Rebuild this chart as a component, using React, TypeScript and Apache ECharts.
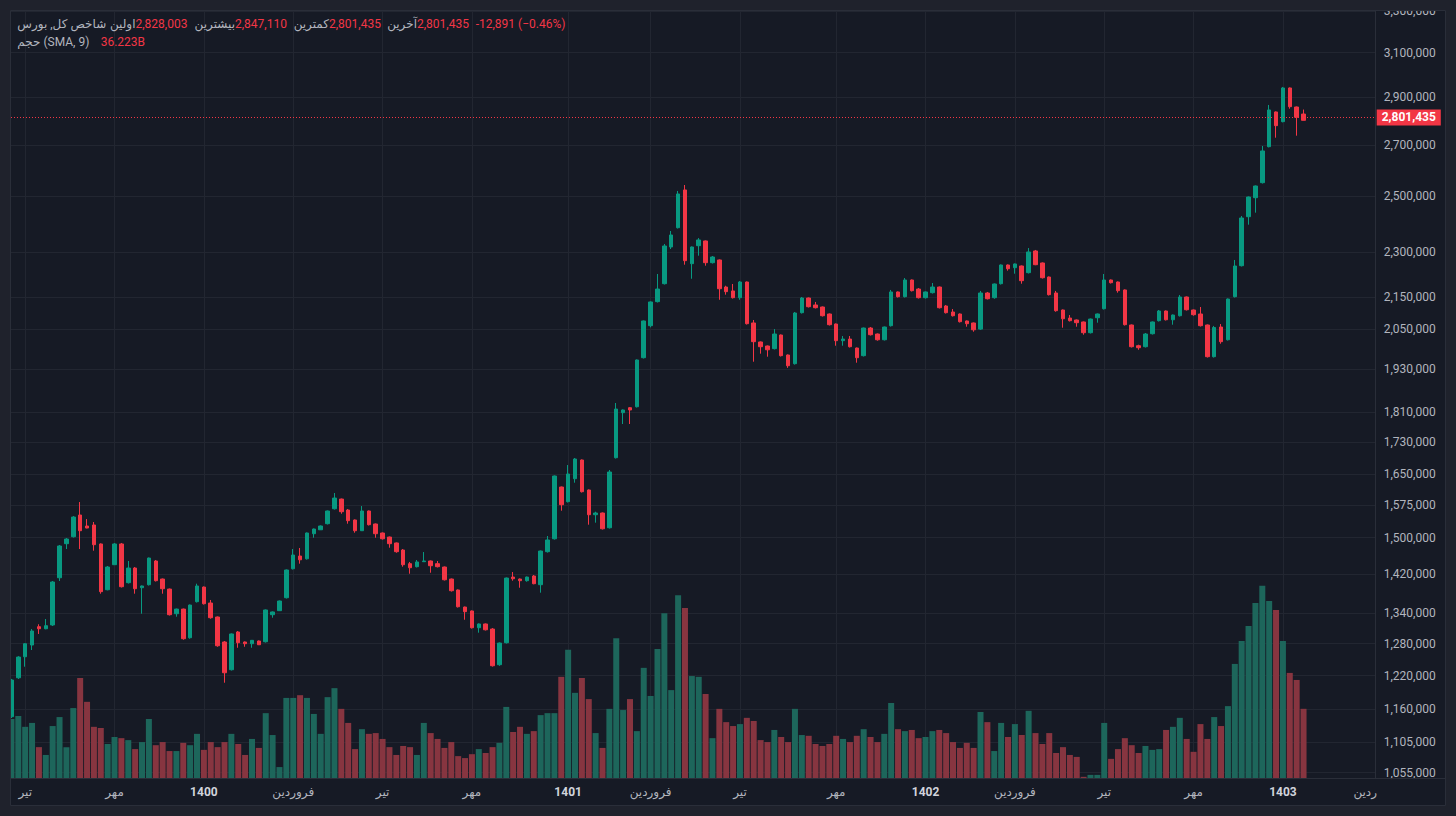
import React, { useEffect, useRef } from "react";
import * as echarts from "echarts";

// ---- data (weekly candles) ----
const opens = [1147200,1216100,1255000,1277200,1312700,1308700,1316100,1412500,1486400,1502000,
1551600,1526300,1528600,1485800,1387400,1440400,1485800,1402100,1433200,1391600,
1397900,1448400,1409800,1388800,1338500,1347800,1291200,1362800,1393000,1360100,
1331900,1283000,1230800,1302400,1283000,1279700,1284900,1283500,1336500,1344600,
1370900,1431700,1459200,1453200,1508800,1517700,1531600,1566200,1589100,1563300,
1540100,1515600,1561000,1530900,1510400,1501300,1488000,1472400,1442600,1436100,
1446900,1448400,1442600,1435400,1409800,1386900,1351900,1344000,1310700,1318100,
1308100,1240100,1281600,1414000,1409800,1406300,1416200,1397900,1468700,1497400,
1618000,1582900,1638200,1684800,1610800,1552300,1556300,1522300,1690600,1808500,
1822000,1824700,1963600,2060000,2135500,2193700,2317600,2385500,2524200,2260400,
2322100,2338600,2263800,2273000,2182800,2170000,2148200,2199300,2068400,2010400,
1998300,1990400,2031500,1971600,1946100,2100500,2147200,2124900,2118500,2096400,
2065200,2014300,2019200,1992300,1969600,2052800,2034500,2017100,2060000,2166700,
2151400,2205900,2176200,2148200,2164400,2182800,2121700,2102700,2096400,2074600,
2068400,2049500,2163400,2148200,2193700,2256000,2246800,2252600,2230200,2303800,
2262800,2215700,2163400,2109000,2083700,2077700,2071500,2038500,2084700,2113000,
2205900,2199300,2173200,2062200,1999200,1996200,2035400,2075500,2105800,2078400,
2091000,2150400,2109000,2096400,2062200,1966600,2055900,2017100,2151400,2253600,
2425100,2495100,2551800,2693100,2836800,2796000,2940500,2858000,2828003];

const closes = [1212000,1254400,1279700,1304300,1308700,1314700,1403600,1481300,1496800,1546900,
1515600,1521700,1484200,1383400,1435400,1485800,1393700,1433200,1389500,1395200,
1454800,1406300,1389500,1336500,1347800,1289300,1356000,1395200,1358700,1330500,
1275800,1225300,1298500,1281600,1279700,1286200,1277700,1346000,1342000,1364200,
1429000,1461400,1451000,1510400,1519400,1526300,1561000,1591500,1559300,1538500,
1515600,1561000,1529300,1508800,1497400,1486400,1468700,1440400,1433900,1446300,
1448400,1438200,1436100,1408300,1385400,1352500,1342600,1310700,1318100,1306700,
1238200,1281000,1411900,1410400,1406300,1414000,1400000,1470200,1494700,1644900,
1575700,1649900,1687300,1606700,1552300,1556300,1520000,1654800,1818400,1815800,
1815800,1956900,2074600,2134500,2176200,2321100,2359600,2509100,2270600,2317600,
2342100,2263800,2283100,2177200,2167700,2148200,2199300,2066200,2011300,1996200,
1987100,2034500,1969600,1940200,2099500,2147200,2119400,2116300,2091000,2063100,
2014300,2019200,1996200,1963600,2052800,2032400,2017100,2055900,2166700,2151400,
2205900,2170900,2148200,2166700,2182800,2116200,2100500,2091000,2072400,2066200,
2047500,2163400,2144900,2192700,2256000,2243400,2259400,2203600,2300400,2257000,
2213400,2157900,2106800,2081500,2075500,2069300,2038500,2080600,2096400,2205900,
2197000,2170900,2063100,1996200,1993200,2034500,2071500,2105800,2078400,2093200,
2150400,2109800,2094200,2060000,1966600,2054300,2011300,2143900,2252600,2420400,
2497700,2539200,2675900,2845300,2779200,2940500,2859300,2814326,2801435];

const lows = [1145000,1214000,1236400,1267700,1298500,1307700,1314100,1405700,1474600,1500200,
1474600,1521000,1470900,1379200,1386200,1439700,1392000,1400400,1379200,1338500,
1396200,1404600,1379200,1334900,1332500,1287400,1289300,1361100,1357000,1328500,
1273900,1207100,1229400,1272000,1273900,1272000,1277200,1282000,1330500,1344000,
1369300,1430100,1442600,1451500,1499800,1517200,1529800,1564400,1554600,1531600,
1511100,1514900,1527500,1499800,1495600,1477500,1466400,1436100,1421100,1434500,
1446300,1423200,1434500,1406700,1383600,1351000,1326500,1309100,1301000,1305300,
1236700,1238000,1280100,1406300,1391600,1404300,1398800,1381300,1466800,1495600,
1561700,1581000,1628500,1604800,1529300,1533900,1518300,1520500,1688600,1778100,
1778100,1822600,1961300,2055000,2132900,2191000,2310600,2382600,2257000,2210000,
2287600,2253600,2261000,2141600,2157900,2145600,2141600,2063700,1951900,1975500,
1966600,1988000,1967200,1934000,1943500,2098000,2116900,2113800,2088500,2060600,
1999200,1999200,1993800,1949000,1967200,2029900,2014300,2014900,2057400,2148800,
2148800,2168300,2145600,2145600,2161700,2113800,2098000,2088500,2069900,2056900,
2041600,2047000,2142600,2144900,2191000,2236900,2226800,2193700,2227500,2255300,
2210700,2155300,2103600,2053800,2073000,2056900,2032400,2036100,2069300,2110600,
2194300,2164400,2060600,1993800,1987100,1993800,2033000,2073000,2076100,2063100,
2088500,2107400,2091000,2057400,1964100,1964100,2005200,2014900,2148800,2250900,
2396300,2439800,2548700,2690400,2729600,2793000,2850700,2737800,2801435];

const highs = [1214000,1256000,1280500,1308100,1317500,1327900,1405700,1483500,1499000,1549200,
1582100,1542200,1535500,1487000,1437600,1488000,1488000,1448400,1435400,1396200,
1455900,1450600,1410900,1389900,1348800,1348800,1357000,1400000,1394100,1366300,
1332900,1284900,1299500,1304300,1284000,1286800,1285800,1347000,1343000,1365200,
1430100,1474600,1476900,1511500,1520500,1527500,1562100,1603600,1590300,1565600,
1541200,1572600,1562100,1532000,1511500,1502400,1489100,1474600,1446300,1450600,
1468000,1449500,1448400,1436500,1410900,1388000,1352800,1345000,1319100,1319100,
1310100,1282000,1413000,1424700,1410900,1415100,1418300,1471300,1503600,1646100,
1619200,1672200,1689900,1686100,1612000,1559300,1557400,1659800,1834900,1817200,
1823900,1958400,2076100,2136100,2225800,2328100,2373800,2520400,2543000,2319400,
2348900,2340300,2286600,2274700,2187000,2192700,2202600,2200900,2077700,2011900,
1999800,2049700,2033000,1973100,2102700,2150400,2148800,2134500,2120100,2098000,
2066700,2028400,2028400,1993800,2054300,2055900,2036100,2057400,2173200,2168300,
2212400,2207500,2179500,2168300,2196000,2184400,2124900,2112100,2098000,2076100,
2069900,2170000,2166700,2194300,2257700,2257700,2261000,2254300,2314000,2307300,
2264500,2217400,2170000,2110600,2093200,2079300,2073000,2082200,2098000,2225800,
2207500,2200900,2174900,2063700,2002200,2037600,2073000,2109000,2107400,2094800,
2156900,2152000,2110600,2118500,2063700,2059300,2065200,2145600,2273000,2427700,
2499600,2541100,2696000,2866700,2838900,2945000,2942700,2860000,2847110];

// volume, billions
const volumes = [15.1,15.9,13.1,14.1,7.9,5.9,13.3,15.6,7.9,17.9,
25.6,19.5,13.1,12.8,8.7,10.5,10.2,9.7,7.4,9.2,
15.1,8.4,9.2,6.9,6.9,9.0,8.4,11.3,7.2,9.2,
7.9,9.2,11.3,8.7,5.9,10.0,7.7,16.6,11.0,2.8,
20.5,20.5,21.2,20.5,16.4,11.3,20.7,23.0,17.7,14.1,
7.4,12.5,11.3,11.5,10.0,7.9,5.9,8.2,7.9,5.9,
14.1,11.5,10.0,7.7,9.2,5.6,5.1,6.1,7.4,6.4,
7.9,9.0,18.2,11.8,13.1,11.3,12.0,16.1,16.6,16.6,
25.9,32.8,21.8,25.6,20.2,11.5,7.7,17.7,35.8,17.4,
20.2,12.0,28.2,21.0,33.0,42.2,22.5,46.8,43.5,26.1,
25.9,21.5,10.2,17.7,14.3,13.3,13.8,15.4,14.6,9.7,
9.2,12.3,10.5,9.2,17.7,11.0,10.8,8.7,8.2,8.7,
10.8,10.0,9.2,10.8,12.5,10.5,9.2,11.3,19.2,12.5,
12.0,12.3,10.2,10.5,12.0,12.3,11.5,9.2,7.7,9.0,
7.7,16.9,14.3,6.9,14.1,10.5,13.8,11.0,17.2,11.5,
8.7,11.5,6.4,7.9,5.9,5.4,0.3,0.8,0.8,14.1,
4.9,7.4,10.2,8.4,6.4,8.2,7.2,7.4,12.3,13.1,
15.4,10.0,6.7,13.8,10.0,15.6,13.3,18.4,29.2,35.1,
38.9,44.8,49.2,45.3,43.0,35.1,26.9,25.1,17.71];

const priceTicks = [1055000,1105000,1160000,1220000,1280000,1340000,1420000,1500000,1575000,1650000,
1730000,1810000,1930000,2050000,2150000,2300000,2500000,2700000,2900000,3100000,3300000];

const timeTickIndex = [2,15,28,41,54,67,81,93,106,120,133,146,159,172,185];
const timeTickText = ["تیر","مهر","1400","فروردین","تیر","مهر","1401","فروردین","تیر","مهر","1402","فروردین","تیر","مهر","1403"];
const clippedTimeLabel = "ردین";

const legendTitle = "شاخص کل, بورس";
const legendLabels = ["اولین","بیشترین","کمترین","آخرین"];
const volumeTitle = "حجم (SMA, 9)";

const SLOT_COUNT = 199;
const AXIS_MIN_PRICE = 1046660;
const AXIS_MAX_PRICE = 3304600;
const VOLUME_AXIS_MAX = 196.6;

const BG = "#161a25";
const FRAME = "#1f222c";
const BORDER = "#2a2e39";
const GRID = "#222631";
const TEXT = "#b2b5be";
const UP = "#089981";
const DOWN = "#f23645";
const VOL_UP = "#1d665b";
const VOL_DOWN = "#873540";
const FONT = 'Roboto, "DejaVu Sans", sans-serif';

const fmt = (n: number) => Math.round(n).toLocaleString("en-US");

export default function App() {
  const ref = useRef<HTMLDivElement>(null);

  useEffect(() => {
    const chart = echarts.init(ref.current as HTMLDivElement, null, { renderer: "svg" });
    const n = opens.length;
    const candles = opens.map((o, i) => [Math.log(o), Math.log(closes[i]), Math.log(lows[i]), Math.log(highs[i])]);
    const vols = volumes.map((v, i) => ({
      value: v,
      itemStyle: { color: closes[i] >= opens[i] ? VOL_UP : VOL_DOWN },
    }));
    const slots = Array.from({ length: SLOT_COUNT }, (_, i) => String(i));
    const tickSet = new Set(timeTickIndex);
    const tickLn = priceTicks.map((p) => Math.log(p));

    const lastO = opens[n - 1];
    const lastH = highs[n - 1];
    const lastL = lows[n - 1];
    const lastC = closes[n - 1];
    const prevC = closes[n - 2];
    const chg = lastC - prevC;
    const pct = (chg / prevC) * 100;
    const sma = volumes.slice(-9).reduce((a, b) => a + b, 0) / 9;
    const chgText = `${chg < 0 ? "-" : "+"}${fmt(Math.abs(chg))} (${pct < 0 ? "−" : "+"}${Math.abs(pct).toFixed(2)}%)`;

    const txt = (text: string, x: number, y: number, fill: string, align: string, weight = "normal") => ({
      type: "text",
      x,
      y,
      z: 120,
      silent: true,
      style: {
        text,
        fill,
        font: `${weight} 12px ${FONT}`,
        align,
        verticalAlign: "middle",
        textAlign: align,
        textVerticalAlign: "middle",
      },
    });

    const legendValues = [lastO, lastH, lastL, lastC];
    const valueX = [135.5, 235, 329, 417];
    const legendEls: any[] = [txt(legendTitle, 17.3, 24, TEXT, "left")];
    legendLabels.forEach((lab, k) => {
      legendEls.push(txt(lab, valueX[k], 24, TEXT, "right"));
      legendEls.push(txt(fmt(legendValues[k]), valueX[k], 24, DOWN, "left"));
    });
    legendEls.push(txt(chgText, 475.7, 24, DOWN, "left"));
    legendEls.push(txt(volumeTitle, 17.3, 41.7, TEXT, "left"));
    legendEls.push(txt(`${sma.toFixed(3)}B`, 100.7, 41.7, DOWN, "left"));

    const frameRect = (x: number, y: number, w: number, h: number) => ({
      type: "rect",
      z: 100,
      silent: true,
      shape: { x, y, width: w, height: h },
      style: { fill: FRAME },
    });

    chart.setOption({
      animation: false,
      backgroundColor: BG,
      textStyle: { fontFamily: FONT },
      grid: { left: 8, right: 80.3, top: 10, bottom: 38 },
      xAxis: {
        type: "category",
        data: slots,
        boundaryGap: true,
        axisLine: { show: false },
        axisTick: { show: false, alignWithLabel: true },
        axisLabel: {
          interval: (i: number) => tickSet.has(i),
          margin: 8,
          fontSize: 12,
          color: TEXT,
          formatter: (_v: string, i: number) => {
            const k = timeTickIndex.indexOf(i);
            if (k < 0) return "";
            const t = timeTickText[k];
            return /^\d+$/.test(t) ? `{y|${t}}` : `{m|${t}}`;
          },
          rich: {
            y: { fontWeight: "bold", color: "#d1d4dc", fontSize: 12, fontFamily: FONT },
            m: { color: TEXT, fontSize: 12, fontFamily: FONT },
          },
        },
        splitLine: {
          show: true,
          interval: (i: number) => tickSet.has(i),
          alignWithLabel: true,
          lineStyle: { color: GRID, width: 1 },
        },
      },
      yAxis: [
        {
          type: "value",
          position: "right",
          min: Math.log(AXIS_MIN_PRICE),
          max: Math.log(AXIS_MAX_PRICE),
          axisLine: { show: true, lineStyle: { color: BORDER } },
          axisTick: { show: false, customValues: tickLn },
          axisLabel: {
            customValues: tickLn,
            margin: 8,
            fontSize: 12,
            color: TEXT,
            formatter: (v: number) => fmt(Math.round(Math.exp(v) / 1000) * 1000),
          },
          splitLine: { show: true, lineStyle: { color: GRID, width: 1 } },
        },
        {
          type: "value",
          min: 0,
          max: VOLUME_AXIS_MAX,
          show: false,
          splitLine: { show: false },
        },
      ],
      series: [
        {
          type: "bar",
          yAxisIndex: 1,
          data: vols,
          barWidth: 6,
          z: 1,
          silent: true,
        },
        {
          type: "candlestick",
          yAxisIndex: 0,
          data: candles,
          barWidth: 4,
          z: 3,
          silent: true,
          itemStyle: {
            color: UP,
            color0: DOWN,
            borderColor: UP,
            borderColor0: DOWN,
            borderWidth: 1,
          },
          markLine: {
            silent: true,
            symbol: ["none", "none"],
            data: [{ yAxis: Math.log(lastC) }],
            lineStyle: { color: DOWN, type: [1, 2], width: 1 },
            label: {
              show: true,
              position: "end",
              distance: 1,
              formatter: fmt(lastC),
              color: "#ffffff",
              fontWeight: "bold",
              fontSize: 12,
              fontFamily: FONT,
              backgroundColor: DOWN,
              padding: [2, 5, 2, 5],
            },
          },
        },
      ],
      graphic: {
        elements: [
          frameRect(0, 0, 1456, 10),
          frameRect(0, 806, 1456, 10),
          frameRect(0, 0, 10, 816),
          frameRect(1446, 0, 10, 816),
          {
            type: "rect",
            z: 101,
            silent: true,
            shape: { x: 10.5, y: 10.5, width: 1435, height: 795 },
            style: { fill: "none", stroke: BORDER, lineWidth: 1 },
          },
          {
            type: "line",
            z: 101,
            silent: true,
            shape: { x1: 10, y1: 778.5, x2: 1446, y2: 778.5 },
            style: { stroke: BORDER, lineWidth: 1 },
          },
          txt(clippedTimeLabel, 1377, 792, TEXT, "right"),
          ...legendEls,
        ],
      },
    });

    return () => chart.dispose();
  }, []);

  return <div ref={ref} style={{ position: "absolute", left: 0, top: 0, width: 1456, height: 816 }} />;
}
